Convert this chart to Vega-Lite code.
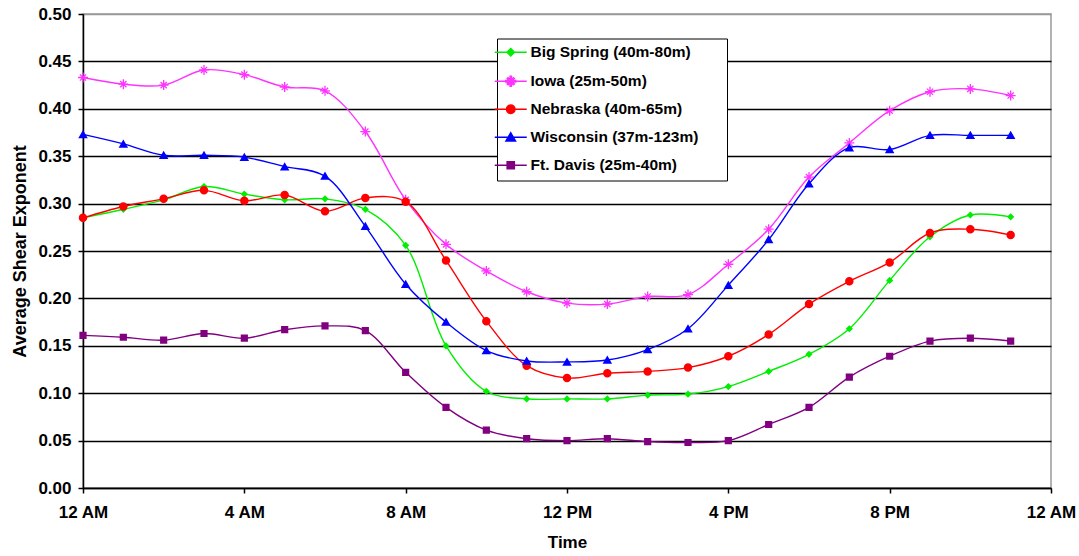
{
  "$schema": "https://vega.github.io/schema/vega-lite/v6.json",
  "width": 968,
  "height": 474,
  "autosize": "none",
  "padding": {"left": 83, "top": 14, "right": 28, "bottom": 68},
  "background": "white",
  "config": {
    "view": {"stroke": "#999999", "strokeWidth": 1.5},
    "font": "Liberation Sans",
    "legend": {
      "title": null,
      "orient": "none",
      "legendX": 414,
      "legendY": 24.5,
      "padding": 6,
      "strokeColor": "black",
      "fillColor": "white",
      "symbolSize": 100,
      "symbolStrokeWidth": 1.5,
      "rowPadding": 11,
      "labelFont": "Liberation Sans",
      "labelFontWeight": "bold",
      "labelFontSize": 15.5,
      "labelColor": "black",
      "labelOffset": 12,
      "labelLimit": 300
    }
  },
  "data": {"values": [
    {"hour":0,"series":"Big Spring (40m-80m)","value":0.285},{"hour":1,"series":"Big Spring (40m-80m)","value":0.294},{"hour":2,"series":"Big Spring (40m-80m)","value":0.304},{"hour":3,"series":"Big Spring (40m-80m)","value":0.318},{"hour":4,"series":"Big Spring (40m-80m)","value":0.310},{"hour":5,"series":"Big Spring (40m-80m)","value":0.304},{"hour":6,"series":"Big Spring (40m-80m)","value":0.305},{"hour":7,"series":"Big Spring (40m-80m)","value":0.294},{"hour":8,"series":"Big Spring (40m-80m)","value":0.256},{"hour":9,"series":"Big Spring (40m-80m)","value":0.150},{"hour":10,"series":"Big Spring (40m-80m)","value":0.102},{"hour":11,"series":"Big Spring (40m-80m)","value":0.094},{"hour":12,"series":"Big Spring (40m-80m)","value":0.094},{"hour":13,"series":"Big Spring (40m-80m)","value":0.094},{"hour":14,"series":"Big Spring (40m-80m)","value":0.098},{"hour":15,"series":"Big Spring (40m-80m)","value":0.099},{"hour":16,"series":"Big Spring (40m-80m)","value":0.107},{"hour":17,"series":"Big Spring (40m-80m)","value":0.123},{"hour":18,"series":"Big Spring (40m-80m)","value":0.141},{"hour":19,"series":"Big Spring (40m-80m)","value":0.168},{"hour":20,"series":"Big Spring (40m-80m)","value":0.219},{"hour":21,"series":"Big Spring (40m-80m)","value":0.265},{"hour":22,"series":"Big Spring (40m-80m)","value":0.288},{"hour":23,"series":"Big Spring (40m-80m)","value":0.286},
    {"hour":0,"series":"Iowa (25m-50m)","value":0.433},{"hour":1,"series":"Iowa (25m-50m)","value":0.426},{"hour":2,"series":"Iowa (25m-50m)","value":0.425},{"hour":3,"series":"Iowa (25m-50m)","value":0.441},{"hour":4,"series":"Iowa (25m-50m)","value":0.436},{"hour":5,"series":"Iowa (25m-50m)","value":0.423},{"hour":6,"series":"Iowa (25m-50m)","value":0.419},{"hour":7,"series":"Iowa (25m-50m)","value":0.376},{"hour":8,"series":"Iowa (25m-50m)","value":0.304},{"hour":9,"series":"Iowa (25m-50m)","value":0.257},{"hour":10,"series":"Iowa (25m-50m)","value":0.229},{"hour":11,"series":"Iowa (25m-50m)","value":0.207},{"hour":12,"series":"Iowa (25m-50m)","value":0.195},{"hour":13,"series":"Iowa (25m-50m)","value":0.194},{"hour":14,"series":"Iowa (25m-50m)","value":0.202},{"hour":15,"series":"Iowa (25m-50m)","value":0.204},{"hour":16,"series":"Iowa (25m-50m)","value":0.236},{"hour":17,"series":"Iowa (25m-50m)","value":0.273},{"hour":18,"series":"Iowa (25m-50m)","value":0.328},{"hour":19,"series":"Iowa (25m-50m)","value":0.364},{"hour":20,"series":"Iowa (25m-50m)","value":0.398},{"hour":21,"series":"Iowa (25m-50m)","value":0.418},{"hour":22,"series":"Iowa (25m-50m)","value":0.421},{"hour":23,"series":"Iowa (25m-50m)","value":0.414},
    {"hour":0,"series":"Nebraska (40m-65m)","value":0.285},{"hour":1,"series":"Nebraska (40m-65m)","value":0.297},{"hour":2,"series":"Nebraska (40m-65m)","value":0.305},{"hour":3,"series":"Nebraska (40m-65m)","value":0.314},{"hour":4,"series":"Nebraska (40m-65m)","value":0.303},{"hour":5,"series":"Nebraska (40m-65m)","value":0.309},{"hour":6,"series":"Nebraska (40m-65m)","value":0.292},{"hour":7,"series":"Nebraska (40m-65m)","value":0.306},{"hour":8,"series":"Nebraska (40m-65m)","value":0.302},{"hour":9,"series":"Nebraska (40m-65m)","value":0.240},{"hour":10,"series":"Nebraska (40m-65m)","value":0.176},{"hour":11,"series":"Nebraska (40m-65m)","value":0.129},{"hour":12,"series":"Nebraska (40m-65m)","value":0.116},{"hour":13,"series":"Nebraska (40m-65m)","value":0.121},{"hour":14,"series":"Nebraska (40m-65m)","value":0.123},{"hour":15,"series":"Nebraska (40m-65m)","value":0.127},{"hour":16,"series":"Nebraska (40m-65m)","value":0.139},{"hour":17,"series":"Nebraska (40m-65m)","value":0.162},{"hour":18,"series":"Nebraska (40m-65m)","value":0.194},{"hour":19,"series":"Nebraska (40m-65m)","value":0.218},{"hour":20,"series":"Nebraska (40m-65m)","value":0.238},{"hour":21,"series":"Nebraska (40m-65m)","value":0.269},{"hour":22,"series":"Nebraska (40m-65m)","value":0.273},{"hour":23,"series":"Nebraska (40m-65m)","value":0.267},
    {"hour":0,"series":"Wisconsin (37m-123m)","value":0.373},{"hour":1,"series":"Wisconsin (37m-123m)","value":0.363},{"hour":2,"series":"Wisconsin (37m-123m)","value":0.351},{"hour":3,"series":"Wisconsin (37m-123m)","value":0.351},{"hour":4,"series":"Wisconsin (37m-123m)","value":0.349},{"hour":5,"series":"Wisconsin (37m-123m)","value":0.339},{"hour":6,"series":"Wisconsin (37m-123m)","value":0.329},{"hour":7,"series":"Wisconsin (37m-123m)","value":0.276},{"hour":8,"series":"Wisconsin (37m-123m)","value":0.215},{"hour":9,"series":"Wisconsin (37m-123m)","value":0.175},{"hour":10,"series":"Wisconsin (37m-123m)","value":0.145},{"hour":11,"series":"Wisconsin (37m-123m)","value":0.134},{"hour":12,"series":"Wisconsin (37m-123m)","value":0.133},{"hour":13,"series":"Wisconsin (37m-123m)","value":0.135},{"hour":14,"series":"Wisconsin (37m-123m)","value":0.146},{"hour":15,"series":"Wisconsin (37m-123m)","value":0.168},{"hour":16,"series":"Wisconsin (37m-123m)","value":0.214},{"hour":17,"series":"Wisconsin (37m-123m)","value":0.262},{"hour":18,"series":"Wisconsin (37m-123m)","value":0.321},{"hour":19,"series":"Wisconsin (37m-123m)","value":0.359},{"hour":20,"series":"Wisconsin (37m-123m)","value":0.357},{"hour":21,"series":"Wisconsin (37m-123m)","value":0.372},{"hour":22,"series":"Wisconsin (37m-123m)","value":0.372},{"hour":23,"series":"Wisconsin (37m-123m)","value":0.372},
    {"hour":0,"series":"Ft. Davis (25m-40m)","value":0.161},{"hour":1,"series":"Ft. Davis (25m-40m)","value":0.159},{"hour":2,"series":"Ft. Davis (25m-40m)","value":0.156},{"hour":3,"series":"Ft. Davis (25m-40m)","value":0.163},{"hour":4,"series":"Ft. Davis (25m-40m)","value":0.158},{"hour":5,"series":"Ft. Davis (25m-40m)","value":0.167},{"hour":6,"series":"Ft. Davis (25m-40m)","value":0.171},{"hour":7,"series":"Ft. Davis (25m-40m)","value":0.166},{"hour":8,"series":"Ft. Davis (25m-40m)","value":0.122},{"hour":9,"series":"Ft. Davis (25m-40m)","value":0.085},{"hour":10,"series":"Ft. Davis (25m-40m)","value":0.061},{"hour":11,"series":"Ft. Davis (25m-40m)","value":0.052},{"hour":12,"series":"Ft. Davis (25m-40m)","value":0.050},{"hour":13,"series":"Ft. Davis (25m-40m)","value":0.052},{"hour":14,"series":"Ft. Davis (25m-40m)","value":0.049},{"hour":15,"series":"Ft. Davis (25m-40m)","value":0.048},{"hour":16,"series":"Ft. Davis (25m-40m)","value":0.050},{"hour":17,"series":"Ft. Davis (25m-40m)","value":0.067},{"hour":18,"series":"Ft. Davis (25m-40m)","value":0.085},{"hour":19,"series":"Ft. Davis (25m-40m)","value":0.117},{"hour":20,"series":"Ft. Davis (25m-40m)","value":0.139},{"hour":21,"series":"Ft. Davis (25m-40m)","value":0.155},{"hour":22,"series":"Ft. Davis (25m-40m)","value":0.158},{"hour":23,"series":"Ft. Davis (25m-40m)","value":0.155}
  ]},
  "encoding": {
    "x": {
      "field": "hour", "type": "quantitative",
      "scale": {"domain": [0, 24], "nice": false, "zero": false},
      "axis": {
        "values": [0, 4, 8, 12, 16, 20, 24],
        "labelExpr": "['12 AM','4 AM','8 AM','12 PM','4 PM','8 PM','12 AM'][round(datum.value/4)]",
        "title": "Time", "grid": false,
        "domainColor": "black", "domainWidth": 1.5,
        "tickColor": "black", "tickWidth": 1.5, "tickSize": 5,
        "labelFont": "Liberation Sans", "labelFontWeight": "bold", "labelFontSize": 17, "labelColor": "black",
        "labelPadding": 11, "labelFlush": false,
        "titleFont": "Liberation Sans", "titleFontWeight": "bold", "titleFontSize": 17, "titleColor": "black",
        "titlePadding": 14
      }
    },
    "y": {
      "field": "value", "type": "quantitative",
      "scale": {"domain": [0, 0.5], "nice": false},
      "axis": {
        "values": [0, 0.05, 0.1, 0.15, 0.2, 0.25, 0.3, 0.35, 0.4, 0.45, 0.5],
        "format": ".2f",
        "title": "Average Shear Exponent",
        "grid": true,
        "gridColor": {"condition": {"test": "datum.value >= 0.49", "value": "#999999"}, "value": "black"},
        "gridWidth": 1.3,
        "domainColor": "black", "domainWidth": 1.5,
        "tickColor": "black", "tickWidth": 1.5, "tickSize": 5,
        "labelFont": "Liberation Sans", "labelFontWeight": "bold", "labelFontSize": 17, "labelColor": "black",
        "labelPadding": 7,
        "titleFont": "Liberation Sans", "titleFontWeight": "bold", "titleFontSize": 18, "titleColor": "black",
        "titlePadding": 8
      }
    }
  },
  "layer": [
    {
      "mark": {"type": "line", "interpolate": "catmull-rom", "strokeWidth": 1.4},
      "encoding": {
        "stroke": {
          "field": "series", "type": "nominal",
          "scale": {
            "domain": ["Big Spring (40m-80m)", "Iowa (25m-50m)", "Nebraska (40m-65m)", "Wisconsin (37m-123m)", "Ft. Davis (25m-40m)"],
            "range": ["#00EE00", "#FF33FF", "#FF0000", "#0000FF", "#800080"]
          }
        }
      }
    },
    {
      "mark": {"type": "point", "filled": true, "opacity": 1, "size": 100},
      "encoding": {
        "fill": {
          "field": "series", "type": "nominal",
          "scale": {
            "domain": ["Big Spring (40m-80m)", "Iowa (25m-50m)", "Nebraska (40m-65m)", "Wisconsin (37m-123m)", "Ft. Davis (25m-40m)"],
            "range": ["#00EE00", "#FF33FF", "#FF0000", "#0000FF", "#800080"]
          }
        },
        "shape": {
          "field": "series", "type": "nominal",
          "scale": {
            "domain": ["Big Spring (40m-80m)", "Iowa (25m-50m)", "Nebraska (40m-65m)", "Wisconsin (37m-123m)", "Ft. Davis (25m-40m)"],
            "range": [
              "M0,-0.72L0.72,0L0,0.72L-0.72,0ZM-3.2,0L3.2,0M41.4,0",
              "M-1,-0.13L1,-0.13L1,0.13L-1,0.13ZM-0.13,-1L0.13,-1L0.13,1L-0.13,1ZM-0.53,-0.71L0.71,0.53L0.53,0.71L-0.71,-0.53ZM-0.71,0.53L0.53,-0.71L0.71,-0.53L-0.53,0.71ZM-3.2,0L3.2,0M41.4,0",
              "M-0.85,0A0.85,0.85,0,1,1,0.85,0A0.85,0.85,0,1,1,-0.85,0ZM-3.2,0L3.2,0M41.4,0",
              "M0,-0.9L0.95,0.75L-0.95,0.75ZM-3.2,0L3.2,0M41.4,0",
              "M-0.72,-0.72L0.72,-0.72L0.72,0.72L-0.72,0.72ZM-3.2,0L3.2,0M41.4,0"
            ]
          }
        }
      }
    }
  ]
}
